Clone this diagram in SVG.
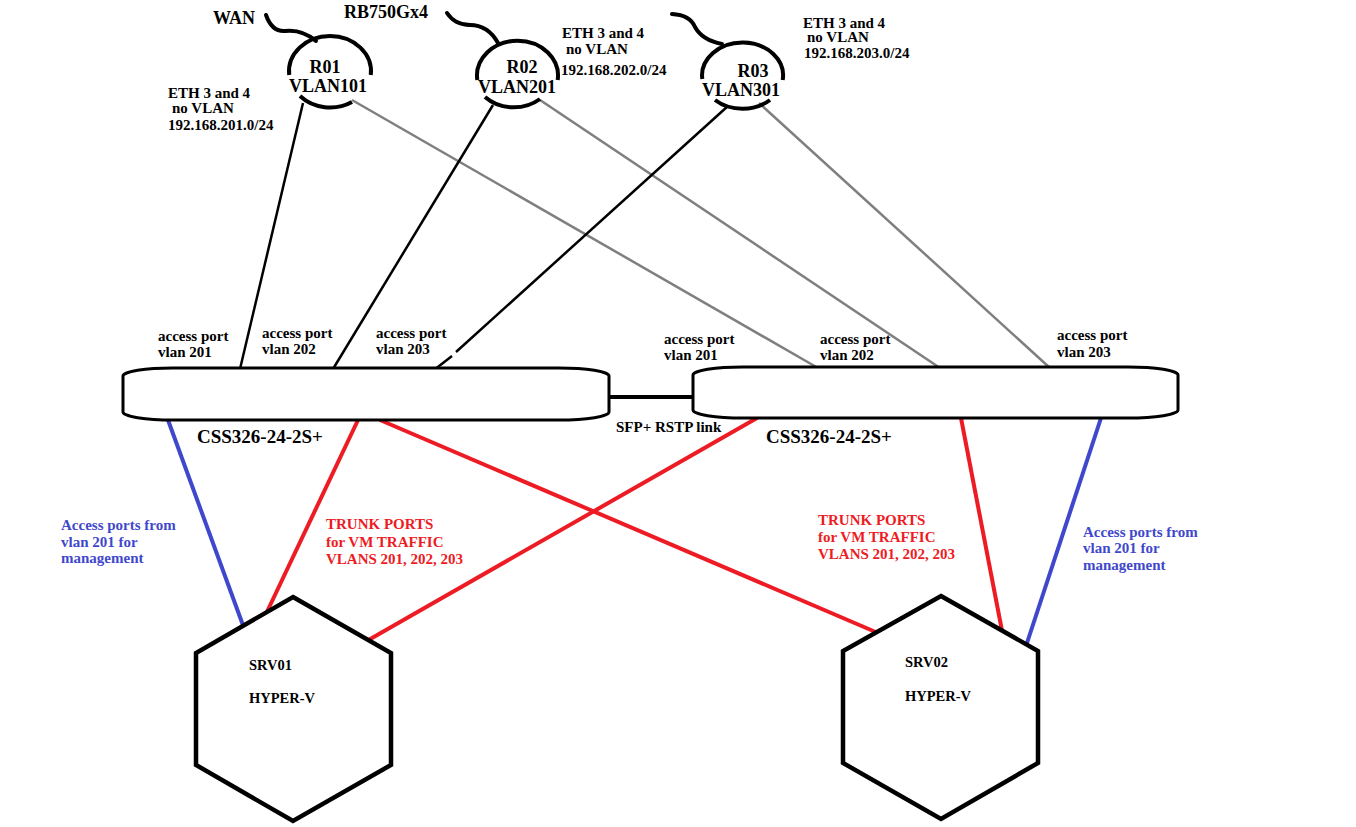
<svg xmlns="http://www.w3.org/2000/svg" width="1356" height="827" viewBox="0 0 1356 827">
<style>
text{font-family:"Liberation Serif","Times New Roman",serif;font-weight:bold;fill:#000}
.s{font-size:15px}
.r{font-size:18px}
.h{font-size:14.5px}
.big{font-size:19px}
.red{fill:#ed1c24}
.blu{fill:#3f48cc}
.ring{fill:none;stroke:#000;stroke-width:4}
.wire{fill:none;stroke:#000;stroke-width:4;stroke-linecap:round}
.sw{fill:#fff;stroke:#000;stroke-width:3}
.hex{fill:#fff;stroke:#000;stroke-width:4.5;stroke-linejoin:miter}
.bl{stroke:#000;stroke-width:2.5}
.gr{stroke:#7f7f7f;stroke-width:2.5}
.rl{stroke:#ed1c24;stroke-width:4}
.bu{stroke:#3f48cc;stroke-width:4}
</style>
<rect width="1356" height="827" fill="#fff"/>
<g id="connectors">
<line class="bl" x1="303" y1="103" x2="240" y2="369"/>
<line class="gr" x1="352" y1="100" x2="818" y2="368"/>
<line class="bl" x1="493" y1="105" x2="333" y2="369"/>
<line class="gr" x1="540" y1="100" x2="940" y2="368"/>
<line class="bl" x1="728" y1="106" x2="456" y2="352"/>
<line class="bl" x1="452" y1="356" x2="434" y2="370"/>
<line class="gr" x1="759" y1="103" x2="1050" y2="368"/>
<line x1="609" y1="397" x2="693" y2="397" stroke="#000" stroke-width="4"/>
<line class="bu" x1="168" y1="420" x2="244" y2="628"/>
<line class="rl" x1="358" y1="420" x2="265" y2="616"/>
<line class="rl" x1="380" y1="420" x2="878" y2="633"/>
<line class="rl" x1="757" y1="418" x2="365" y2="642"/>
<line class="rl" x1="961" y1="418" x2="1003" y2="636"/>
<line class="bu" x1="1101" y1="418" x2="1026" y2="646"/>
</g>
<g id="R01">
<path class="wire" d="M266,15 Q272,32 285,31 Q302,29 316,41"/>
<path class="ring" d="M289.2,75 A41,35.5 0 1 1 370.8,75"/>
<path class="ring" d="M300,96 A41,35.5 0 0 0 352,102"/>
<text class="r" x="325" y="73" text-anchor="middle">R01</text>
<text class="r" x="328" y="91.5" text-anchor="middle">VLAN101</text>
</g>
<g id="R02">
<path class="wire" d="M447,13 Q455,25 470,25 Q488,25 498,43"/>
<path class="ring" d="M477.3,80 A40.5,35 0 1 1 557.7,80"/>
<path class="ring" d="M485,97 A40.5,35 0 0 0 540,99"/>
<text class="r" x="522" y="73" text-anchor="middle">R02</text>
<text class="r" x="517" y="93" text-anchor="middle">VLAN201</text>
</g>
<g id="R03">
<path class="wire" d="M672,14 Q690,15 695,27 Q702,40 722,44"/>
<path class="ring" d="M702.3,79 A40.5,33 0 1 1 782.7,80"/>
<path class="ring" d="M715,100 A40.5,33 0 0 0 770,100"/>
<text class="r" x="753" y="77" text-anchor="middle">R03</text>
<text class="r" x="741" y="95.5" text-anchor="middle">VLAN301</text>
</g>
<g id="labels-top">
<text class="r" x="213" y="24">WAN</text>
<text class="r" x="344" y="18">RB750Gx4</text>
<text class="s" x="168" y="98">ETH 3 and 4</text>
<text class="s" x="172" y="113">no VLAN</text>
<text class="s" x="168" y="130">192.168.201.0/24</text>
<text class="s" x="562" y="38">ETH 3 and 4</text>
<text class="s" x="566" y="54">no VLAN</text>
<text class="s" x="561" y="75">192.168.202.0/24</text>
<text class="s" x="803" y="28">ETH 3 and 4</text>
<text class="s" x="807" y="42">no VLAN</text>
<text class="s" x="804" y="58">192.168.203.0/24</text>
</g>
<g id="SW1">
<path class="sw" d="M173,368 H559 A50,8 0 0 1 609,376 V412 A50,8 0 0 1 559,420 H173 A50,8 0 0 1 123,412 V376 A50,8 0 0 1 173,368 Z"/>
<text class="s" x="158" y="341">access port</text>
<text class="s" x="158" y="357">vlan 201</text>
<text class="s" x="262" y="338">access port</text>
<text class="s" x="262" y="354">vlan 202</text>
<text class="s" x="376" y="338">access port</text>
<text class="s" x="376" y="354">vlan 203</text>
<text class="big" x="197" y="443">CSS326-24-2S+</text>
</g>
<g id="SW2">
<path class="sw" d="M743,367 H1128 A50,8 0 0 1 1178,375 V410 A50,8 0 0 1 1128,418 H743 A50,8 0 0 1 693,410 V375 A50,8 0 0 1 743,367 Z"/>
<text class="s" x="664" y="344">access port</text>
<text class="s" x="664" y="360">vlan 201</text>
<text class="s" x="820" y="344">access port</text>
<text class="s" x="820" y="360">vlan 202</text>
<text class="s" x="1057" y="340">access port</text>
<text class="s" x="1057" y="357">vlan 203</text>
<text class="big" x="766" y="443">CSS326-24-2S+</text>
</g>
<g id="link-label">
<text class="s" x="616" y="432">SFP+ RSTP link</text>
</g>
<g id="port-labels">
<text class="s blu" x="61" y="530">Access ports from</text>
<text class="s blu" x="61" y="547">vlan 201 for</text>
<text class="s blu" x="61" y="563">management</text>
<text class="s red" x="326" y="529">TRUNK PORTS</text>
<text class="s red" x="326" y="547">for VM TRAFFIC</text>
<text class="s red" x="326" y="564">VLANS 201, 202, 203</text>
<text class="s red" x="818" y="525">TRUNK PORTS</text>
<text class="s red" x="818" y="542">for VM TRAFFIC</text>
<text class="s red" x="818" y="559">VLANS 201, 202, 203</text>
<text class="s blu" x="1083" y="537">Access ports from</text>
<text class="s blu" x="1083" y="553">vlan 201 for</text>
<text class="s blu" x="1083" y="570">management</text>
</g>
<g id="SRV01">
<polygon class="hex" points="293,597 391,653 391,765 293,821 196,765 196,653"/>
<text class="h" x="249" y="670">SRV01</text>
<text class="h" x="249" y="703">HYPER-V</text>
</g>
<g id="SRV02">
<polygon class="hex" points="941,596 1038,651 1038,763 941,819 843,763 843,651"/>
<text class="h" x="905" y="667">SRV02</text>
<text class="h" x="905" y="701">HYPER-V</text>
</g>
</svg>
